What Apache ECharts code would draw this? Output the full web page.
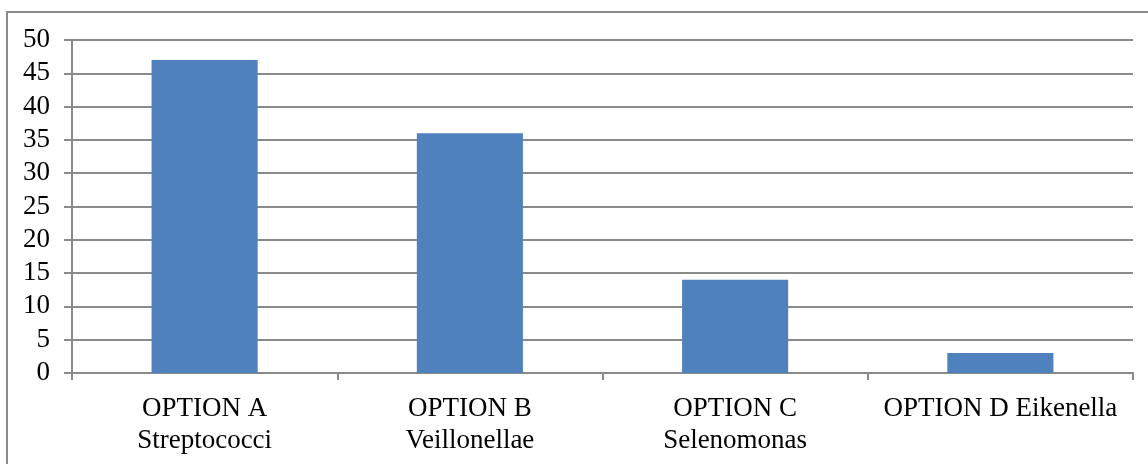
<!DOCTYPE html>
<html><head><meta charset="utf-8">
<script src="https://cdn.jsdelivr.net/npm/echarts@6/dist/echarts.min.js"></script>
<style>html,body{margin:0;padding:0;background:#fff}#c{width:1148px;height:464px}</style>
</head><body><div id="c"></div>
<script>
const categories = ["OPTION A\nStreptococci", "OPTION B\nVeillonellae", "OPTION C\nSelenomonas", "OPTION D Eikenella"];
const values = [47, 36, 14, 3];
const yMin = 0, yMax = 50, yStep = 5;

const chart = echarts.init(document.getElementById('c'), null, {renderer: 'canvas'});
chart.setOption({
  animation: false,
  backgroundColor: '#ffffff',
  graphic: [{
    type: 'rect', silent: true, z: -1,
    shape: {x: 7, y: 12, width: 1200, height: 500},
    style: {fill: 'none', stroke: '#8a8a8a', lineWidth: 2}
  }],
  grid: {left: 72, right: 15, top: 40, bottom: 91, containLabel: false},
  xAxis: {
    type: 'category', data: categories,
    axisLine: {show: true, lineStyle: {color: '#8a8a8a', width: 2}},
    axisTick: {show: true, length: 7, lineStyle: {color: '#8a8a8a', width: 2}},
    axisLabel: {color: '#000', fontFamily: 'Liberation Serif', fontSize: 27, lineHeight: 32, margin: 20, interval: 0}
  },
  yAxis: {
    type: 'value', min: yMin, max: yMax, interval: yStep,
    axisLine: {show: true, lineStyle: {color: '#8a8a8a', width: 2}},
    axisTick: {show: true, length: 8, lineStyle: {color: '#8a8a8a', width: 2}},
    splitLine: {show: true, lineStyle: {color: '#8a8a8a', width: 2}},
    axisLabel: {color: '#000', fontFamily: 'Liberation Serif', fontSize: 27, margin: 22}
  },
  series: [{
    type: 'bar', data: values, barWidth: '40%',
    itemStyle: {color: '#4F81BD'}
  }]
});
</script></body></html>
